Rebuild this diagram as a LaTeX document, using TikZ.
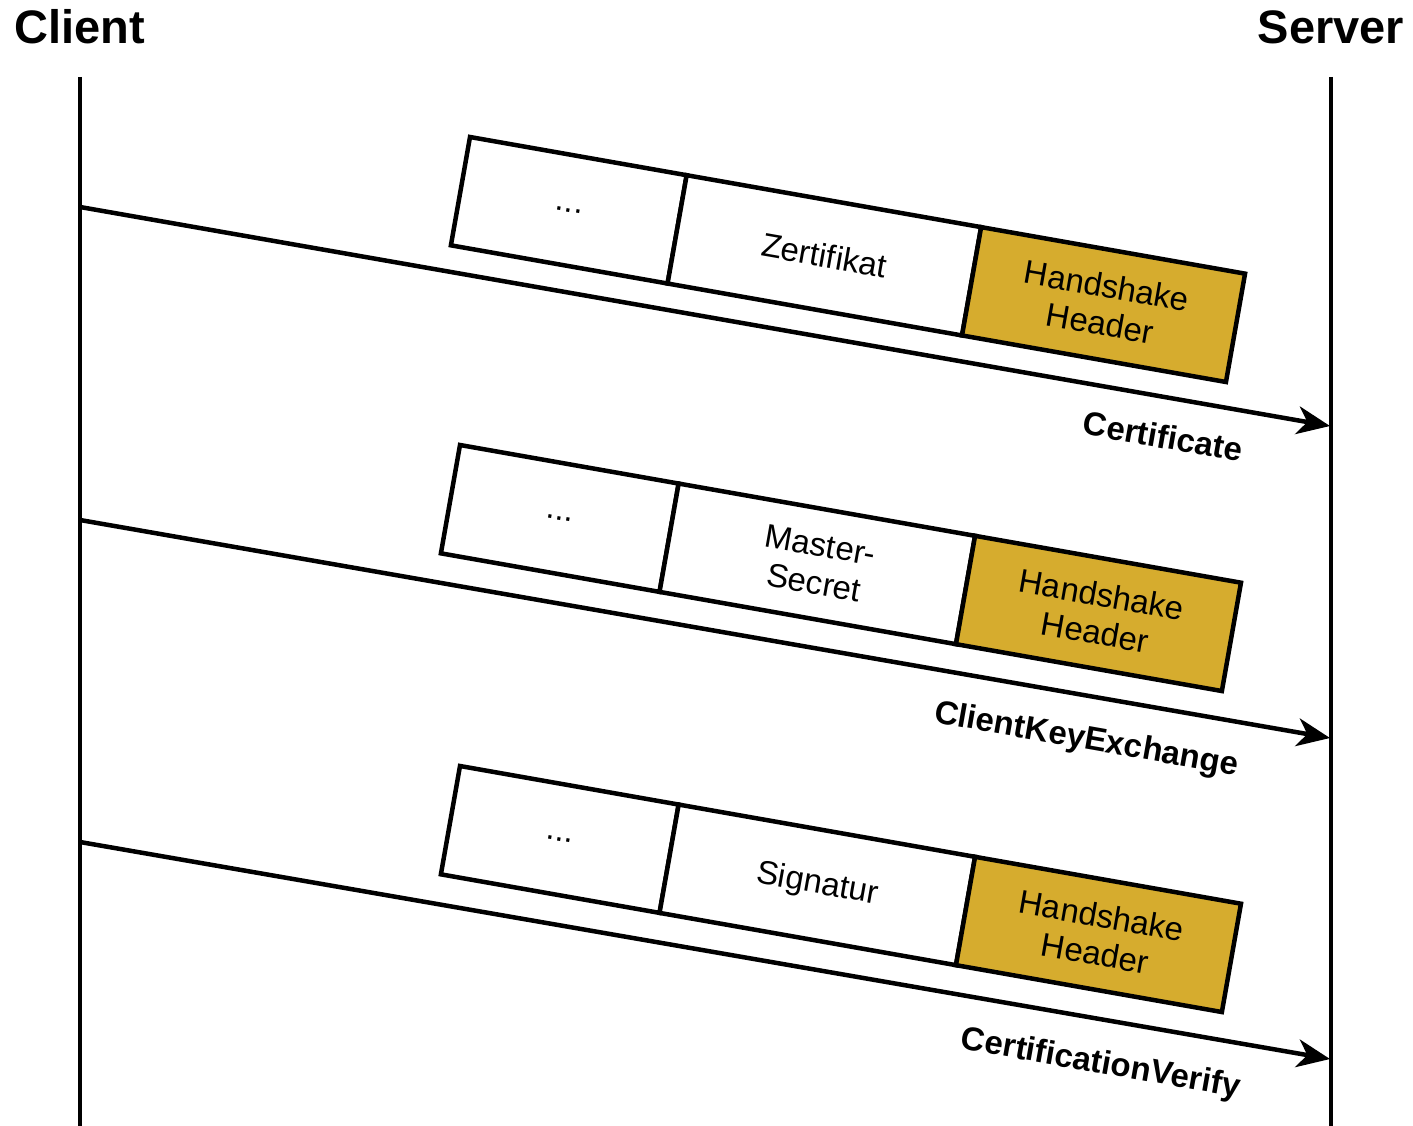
\documentclass[tikz,border=0pt]{standalone}
\usepackage{fontspec}
\setmainfont{Liberation Sans}
\usetikzlibrary{arrows.meta}
\definecolor{hdrgold}{RGB}{214,172,46}
\begin{document}
\begin{tikzpicture}[x=1pt,y=-1pt,
  lifeline/.style={line width=4.5pt},
  party/.style={font=\fontsize{47}{52}\selectfont\bfseries, anchor=base, inner sep=0pt},
  msg/.style={line width=4.5pt, -{Stealth[length=33pt,width=28pt,inset=10pt]}},
  msglabel/.style={font=\fontsize{33}{38}\selectfont\bfseries, rotate=-10, anchor=base, inner sep=0pt},
  field/.style={draw, line width=4.5pt, rotate=-10, anchor=north west, outer sep=0pt,
    inner sep=0pt, minimum height=110pt, align=center, fill=white,
    font=\fontsize{33}{38}\selectfont},
  hdr/.style={field, fill=hdrgold}
]
\useasboundingbox (0,0) rectangle (1413,1126);

% participants and their lifelines
\node[party] (client) at (80,44) {Client};
\node[party] (server) at (1331,44) {Server};
\coordinate (ctop) at (80,77);
\coordinate (cbot) at (80,1126);
\coordinate (stop) at (1331,77);
\coordinate (sbot) at (1331,1126);
\draw[lifeline] (ctop) -- (cbot);
\draw[lifeline] (stop) -- (sbot);

% message 1: Certificate
\coordinate (c1) at (80,207);
\coordinate (s1) at (1330,426);
\draw[msg] (c1) -- (s1);
\node[msglabel] (l1) at (1161,448) {Certificate};
\node[field, minimum width=220pt] (p1a) at (470,137) {...};
\node[field, minimum width=299pt] (p1b) at (p1a.north east) {Zertifikat};
\node[hdr, minimum width=268pt] (p1c) at (p1b.north east) {Handshake\\Header};

% message 2: ClientKeyExchange
\coordinate (c2) at (80,520);
\coordinate (s2) at (1330,738);
\draw[msg] (c2) -- (s2);
\node[msglabel] (l2) at (1085,749) {ClientKeyExchange};
\node[field, minimum width=222pt] (p2a) at (460,445) {...};
\node[field, minimum width=301pt] (p2b) at (p2a.north east) {Master-\\Secret};
\node[hdr, minimum width=270pt] (p2c) at (p2b.north east) {Handshake\\Header};

% message 3: CertificationVerify
\coordinate (c3) at (80,842);
\coordinate (s3) at (1330,1059);
\draw[msg] (c3) -- (s3);
\node[msglabel] (l3) at (1099,1073) {CertificationVerify};
\node[field, minimum width=222pt] (p3a) at (460,766) {...};
\node[field, minimum width=301pt] (p3b) at (p3a.north east) {Signatur};
\node[hdr, minimum width=270pt] (p3c) at (p3b.north east) {Handshake\\Header};
\end{tikzpicture}
\end{document}
